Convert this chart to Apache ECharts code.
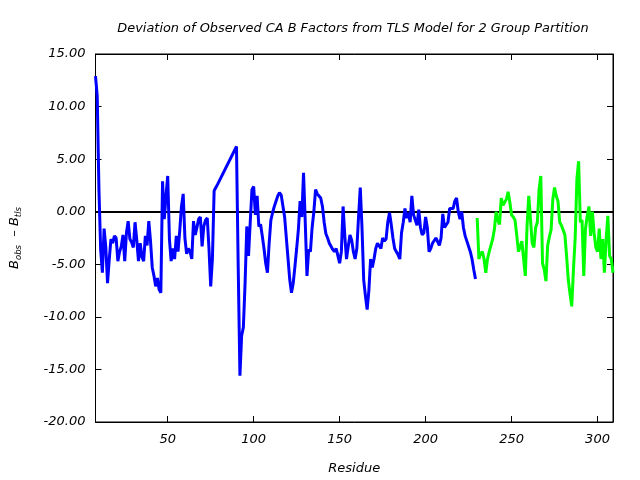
<!DOCTYPE html>
<html>
<head>
<meta charset="utf-8">
<script src="https://cdn.jsdelivr.net/npm/echarts@6/dist/echarts.min.js"></script>
<style>html,body{margin:0;padding:0;background:#fff}#c{width:640px;height:480px}</style>
</head>
<body>
<div id="c"></div>
<script>
// ---- data ----
var blueResidues = [];
for (var i = 8; i <= 79; i++) blueResidues.push(i);
for (var j = 90; j <= 229; j++) blueResidues.push(j);
var blueValues = [
 12.9, 11.0, 2.1, -3.6, -5.8, -1.6, -3.4, -6.8, -4.5, -2.6,
 -3.0, -2.3, -2.5, -4.7, -3.8, -3.3, -2.2, -4.7, -2.0, -0.9,
 -2.6, -2.9, -3.4, -1.0, -2.7, -4.7, -3.0, -4.3, -4.7, -2.3,
 -3.2, -0.9, -2.8, -5.3, -6.1, -7.1, -6.3, -7.4, -7.7, 2.9,
 -0.7, 1.5, 3.4, -2.6, -4.7, -3.5, -4.5, -2.3, -3.8, -1.8,
 0.5, 1.7, -2.5, -4.0, -3.5, -3.8, -4.5, -0.9, -2.2, -1.5,
 -0.7, -0.5, -3.3, -1.4, -0.8, -0.6, -3.5, -7.1, -4.5, 2.0,
 2.3, 2.6,
 6.2, -5.2, -15.6, -11.8, -11.0, -6.8, -1.4, -4.2, -1.0, 2.1,
 2.4, -0.3, 1.5, -1.4, -1.2, -2.3, -3.5, -4.9, -5.8, -3.0,
 -0.8, -0.1, 0.5, 1.0, 1.5, 1.8, 1.6, 1.5, -0.5, -2.5,
 -4.5, -6.5, -7.7, -6.8, -5.2, -3.5, -1.7, 1.0, -0.5, 3.7,
 -1.0, -6.1, -3.6, -3.8, -1.5, 0.0, 2.1, 1.7, 1.5, 1.3,
 0.5, -1.0, -2.1, -2.5, -3.0, -3.0, -3.6, -3.8, -3.5, -4.2,
 -4.9, -3.8, 0.5, -2.3, -4.5, -3.3, -2.2, -2.7, -3.8, -4.5,
 -3.5, -0.5, 2.3, -1.5, -6.5, -8.0, -9.3, -7.5, -4.5, -5.3,
 -4.5, -3.5, -3.0, -3.0, -3.5, -2.5, -2.8, -2.6, -1.0, -0.1,
 -1.2, -2.5, -3.5, -3.8, -4.1, -4.5, -2.0, -1.0, 0.3, -0.6,
 -0.1, -1.0, 1.5, -0.3, -0.8, -1.3, 0.2, -1.5, -2.2, -2.0,
 -0.5, -1.5, -3.8, -3.5, -3.0, -3.0, -2.5, -2.4, -3.2, -2.5,
 -0.2, -1.5, -1.5, -1.0, 0.3, 0.2, 0.3, 1.0, 1.3, 0.0,
 -0.7, 0.0, -1.5, -2.3, -2.8, -2.7, -3.8, -4.5, -5.5, -6.4
];
var greenResidues = [];
for (var k = 230; k <= 309; k++) greenResidues.push(k);
var greenValues = [
 -0.6, -4.5, -4.0, -3.8, -4.5, -5.8, -4.5, -3.8, -3.2, -2.6,
 -1.7, 0.0, -0.8, -1.2, 1.3, 0.6, 0.5, 1.2, 1.9, 0.9,
 -0.3, -0.5, -0.8, -2.2, -3.8, -3.3, -2.8, -4.5, -6.1, -1.4,
 1.5, -0.7, -3.0, -3.4, -1.5, -1.0, 2.1, 3.4, -4.9, -5.5,
 -6.6, -3.2, -2.4, -1.7, 1.2, 2.3, 1.5, 1.0, -1.0, -1.3,
 -1.2, -2.2, -4.2, -6.5, -7.8, -9.0, -5.5, -2.5, 3.1, 4.8,
 -1.0, -0.8, -6.1, -1.6, -0.4, 0.5, -2.3, 0.0, -2.0, -3.4,
 -3.8, -1.6, -4.5, -2.6, -5.8, -2.6, -0.4, -4.2, -4.5, -5.8
];
var xTickLabels = [50, 100, 150, 200, 250, 300];
var xMin = 8, xMax = 309;
var yMin = -20, yMax = 15, yStep = 5;
var titleText = 'Deviation of Observed CA B Factors from TLS Model for 2 Group Partition';

function pairs(xs, ys) { var out = []; for (var i = 0; i < xs.length; i++) out.push([xs[i], ys[i]]); return out; }

// split-line colours: only the line at y = 0 is drawn
var splitColors = [];
for (var v = yMin; v <= yMax; v += yStep) splitColors.push(v === 0 ? '#000000' : 'rgba(0,0,0,0)');

var FONT = 'DejaVu Sans';
var chart = echarts.init(document.getElementById('c'));
chart.setOption({
  animation: false,
  title: {
    text: titleText, left: 348, top: 17, textAlign: 'center',
    textStyle: {fontFamily: FONT, fontStyle: 'italic', fontWeight: 'normal', fontSize: 12.9, color: '#000'}
  },
  grid: {left: 95, right: 27, top: 54, bottom: 58, show: true, borderColor: '#000', borderWidth: 1},
  xAxis: [
    {
      type: 'value', min: xMin, max: xMax, position: 'bottom',
      axisLine: {show: true, onZero: false, lineStyle: {color: '#000', width: 1}},
      axisTick: {show: true, inside: true, length: 6, lineStyle: {color: '#000', width: 1}},
      splitLine: {show: false},
      name: 'Residue', nameLocation: 'middle', nameGap: 40,
      nameTextStyle: {fontFamily: FONT, fontStyle: 'italic', fontSize: 13, color: '#000'},
      axisLabel: {margin: 11, fontFamily: FONT, fontStyle: 'italic', fontSize: 13, color: '#000',
        formatter: function (v) { return xTickLabels.indexOf(v) >= 0 ? String(v) : ''; }}
    },
    {
      type: 'value', min: xMin, max: xMax, position: 'top',
      axisLine: {show: true, onZero: false, lineStyle: {color: '#000', width: 1}},
      axisTick: {show: true, inside: true, length: 6, lineStyle: {color: '#000', width: 1}},
      splitLine: {show: false}, axisLabel: {show: false}
    }
  ],
  yAxis: [
    {
      type: 'value', min: yMin, max: yMax, interval: yStep, position: 'left',
      axisLine: {show: true, onZero: false, lineStyle: {color: '#000', width: 1}},
      axisTick: {show: true, inside: true, length: 6, lineStyle: {color: '#000', width: 1}},
      splitLine: {show: true, lineStyle: {color: splitColors, width: 2, type: 'solid'}},
      name: '{b|B}{s|obs}{b|  \u2013 B}{s|tls}', nameLocation: 'middle', nameGap: 72,
      nameTextStyle: {color: '#000', rich: {
        b: {fontFamily: FONT, fontStyle: 'italic', fontSize: 13, lineHeight: 18, color: '#000'},
        s: {fontFamily: FONT, fontStyle: 'italic', fontSize: 8.5, lineHeight: 18, verticalAlign: 'bottom', padding: [6, 0, 0, 0], color: '#000'}
      }},
      axisLabel: {margin: 10, fontFamily: FONT, fontStyle: 'italic', fontSize: 13, color: '#000',
        formatter: function (v) { return v.toFixed(2); }}
    },
    {
      type: 'value', min: yMin, max: yMax, interval: yStep, position: 'right',
      axisLine: {show: true, onZero: false, lineStyle: {color: '#000', width: 1}},
      axisTick: {show: true, inside: true, length: 6, lineStyle: {color: '#000', width: 1}},
      splitLine: {show: false}, axisLabel: {show: false}
    }
  ],
  series: [
    {
      type: 'line', name: 'group1', xAxisIndex: 0, yAxisIndex: 0,
      data: pairs(blueResidues, blueValues), symbol: 'none',
      lineStyle: {color: '#0000ff', width: 3}
    },
    {
      type: 'line', name: 'group2', xAxisIndex: 0, yAxisIndex: 0,
      data: pairs(greenResidues, greenValues), symbol: 'none',
      lineStyle: {color: '#00ff00', width: 3}
    }
  ]
});
</script>
</body>
</html>
